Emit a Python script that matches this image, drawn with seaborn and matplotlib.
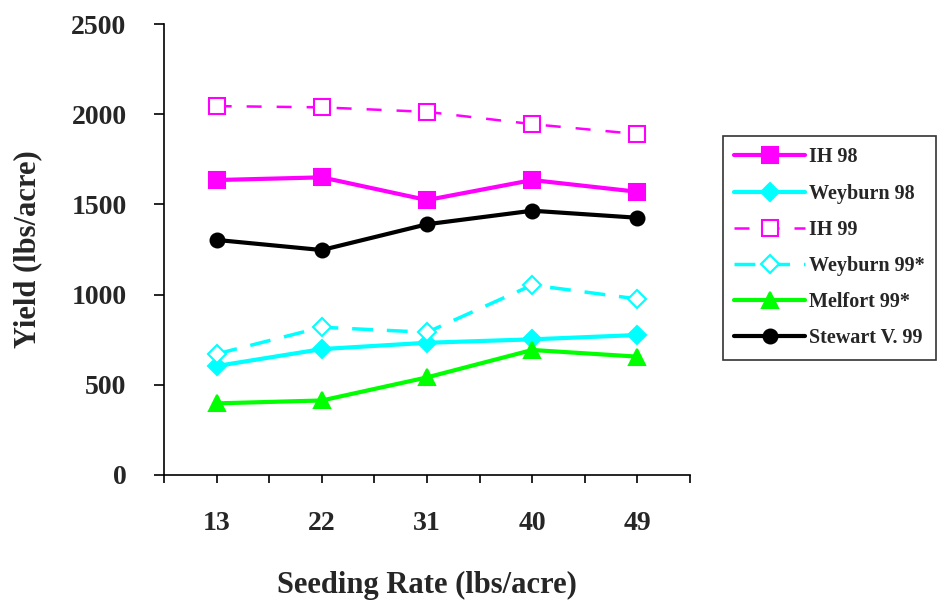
import matplotlib
matplotlib.use("Agg")
import matplotlib.pyplot as plt
import pandas as pd
import seaborn as sns

# -----------------------------
# Data
# -----------------------------
rates = ["13", "22", "31", "40", "49"]

ih_98 = [1635, 1650, 1524, 1635, 1570]
weyburn_98 = [604, 698, 733, 752, 776]
ih_99 = [2045, 2038, 2013, 1945, 1890]
weyburn_99 = [671, 819, 791, 1053, 976]
melfort_99 = [397, 413, 541, 693, 656]
stewart_99 = [1303, 1247, 1390, 1465, 1426]

series_names = ["IH 98", "Weyburn 98", "IH 99", "Weyburn 99*", "Melfort 99*", "Stewart V. 99"]
series_values = [ih_98, weyburn_98, ih_99, weyburn_99, melfort_99, stewart_99]

# -----------------------------
# Styling per series
# -----------------------------
styles = {
    "IH 98":         dict(color="#FF00FF", marker="s", ls="-",  lw=3.0, ms=11, mfc="#FF00FF"),
    "Weyburn 98":    dict(color="#00FFFF", marker="D", ls="-",  lw=3.0, ms=9,  mfc="#00FFFF"),
    "IH 99":         dict(color="#FF00FF", marker="s", ls=(0, (6, 6)), lw=1.8, ms=11, mfc="white"),
    "Weyburn 99*":   dict(color="#00FFFF", marker="D", ls=(0, (6, 4)), lw=2.5, ms=9,  mfc="white"),
    "Melfort 99*":   dict(color="#00FF00", marker="^", ls="-",  lw=3.0, ms=12, mfc="#00FF00"),
    "Stewart V. 99": dict(color="black",   marker="o", ls="-",  lw=3.0, ms=10, mfc="black"),
}

rows = []
for name, vals in zip(series_names, series_values):
    for i, (r, v) in enumerate(zip(rates, vals)):
        rows.append({"series": name, "pos": i, "rate": r, "yield": v})
df = pd.DataFrame(rows)

# -----------------------------
# Plot
# -----------------------------
sns.set_style("white")
plt.rcParams["font.family"] = ["Liberation Serif", "DejaVu Serif"]
plt.rcParams["font.weight"] = "bold"

fig = plt.figure(figsize=(9.39, 6.05), dpi=100)
ax = fig.add_axes([0.1747, 0.2149, 0.7348 - 0.1747, 0.9603 - 0.2149])

for name in series_names:
    st = styles[name]
    sub = df[df["series"] == name]
    sns.lineplot(
        data=sub, x="pos", y="yield", ax=ax, label=name,
        color=st["color"], linestyle=st["ls"], linewidth=st["lw"],
        marker=st["marker"], markersize=st["ms"],
        markerfacecolor=st["mfc"], markeredgecolor=st["color"],
        markeredgewidth=1.5,
    )

ax.set_xlim(-0.5, len(rates) - 0.5)
ax.set_ylim(0, 2500)
ax.set_xticks(range(len(rates)))
ax.set_xticklabels(rates)
ax.set_xticks([i - 0.5 for i in range(len(rates) + 1)], minor=True)
ax.set_yticks(range(0, 2501, 500))

for s in ["top", "right"]:
    ax.spines[s].set_visible(False)
for s in ["left", "bottom"]:
    ax.spines[s].set_color("black")
    ax.spines[s].set_linewidth(1.2)

ax.tick_params(axis="x", which="both", direction="out", length=6, width=1.2,
               color="black", bottom=True, pad=20, labelsize=20)
ax.tick_params(axis="y", which="major", direction="out", length=7, width=1.2,
               color="black", left=True, pad=20, labelsize=20)

ax.set_xlabel("Seeding Rate (lbs/acre)", fontsize=22, fontweight="bold", labelpad=25)
ax.set_ylabel("Yield (lbs/acre)", fontsize=22, fontweight="bold", labelpad=21)

leg = ax.legend(
    loc="upper left", bbox_to_anchor=(723 / 939, 1 - 136 / 605), bbox_transform=fig.transFigure,
    borderaxespad=0, frameon=True, fancybox=False, edgecolor="black",
    handlelength=3.5, labelspacing=0.8, borderpad=0.57, handletextpad=0.2,
    prop={"weight": "bold", "size": 14.5},
)
leg.get_frame().set_linewidth(1.2)

plt.savefig("out.png", dpi=100)
plt.close()
